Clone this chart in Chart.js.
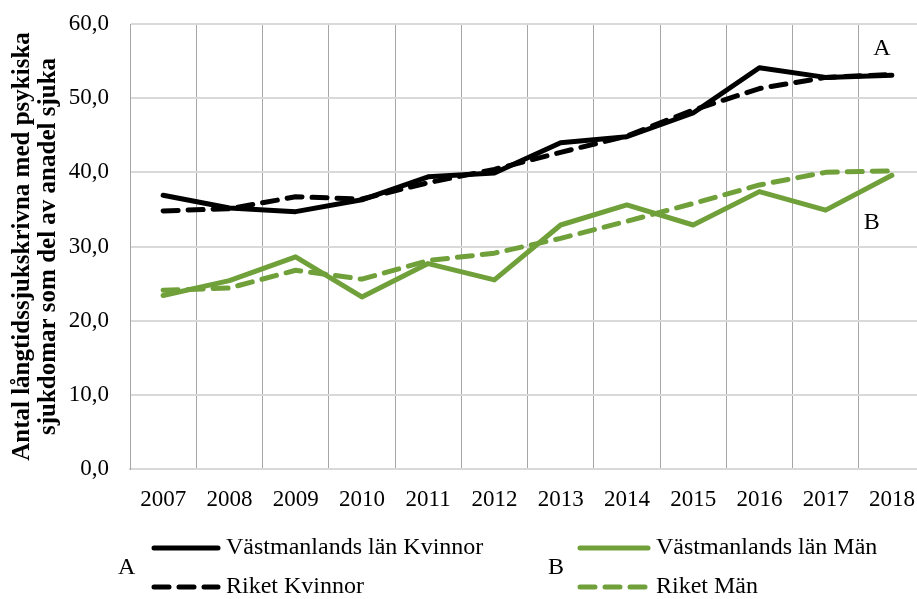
<!DOCTYPE html>
<html>
<head>
<meta charset="utf-8">
<script src="https://cdn.jsdelivr.net/npm/chart.js@4"></script>
<style>
  html, body { margin: 0; padding: 0; background: #fff; overflow: hidden; }
  #wrap { position: relative; width: 935px; height: 599px; }
</style>
</head>
<body>
<div id="wrap"><canvas id="chart"></canvas></div>
<script>
const years = ['2007','2008','2009','2010','2011','2012','2013','2014','2015','2016','2017','2018'];
const vastKvinnor = [36.9, 35.2, 34.7, 36.3, 39.4, 39.9, 44.0, 44.8, 48.0, 54.1, 52.8, 53.1];
const riketKvinnor = [34.8, 35.1, 36.7, 36.4, 38.6, 40.4, 42.7, 44.9, 48.4, 51.3, 52.8, 53.2];
const vastMan = [23.4, 25.4, 28.6, 23.2, 27.7, 25.5, 32.9, 35.6, 32.9, 37.4, 34.9, 39.6];
const riketMan = [24.1, 24.4, 26.8, 25.6, 28.1, 29.1, 31.1, 33.4, 35.8, 38.3, 40.0, 40.2];
const yTicks = [0, 10, 20, 30, 40, 50, 60];
const yTitle = ['Antal långtidssjukskrivna med psykiska', 'sjukdomar som del av anadel sjuka'];

const FONT = '"Liberation Serif", "Times New Roman", serif';
const BLACK = '#000000';
const GREEN = '#70a03a';
const DASH = [15, 10];

function fmt(v) { return v.toFixed(1).replace('.', ','); }

// legend with group letters A / B, drawn below the axis
const groupLegend = {
    id: 'groupLegend',
    afterDraw(chart) {
        const ctx = chart.ctx;
        const ds = chart.data.datasets;
        const groups = [
            { letter: 'A', x: 118, items: [ds[0], ds[1]], lineX: 152, lineW: 68 },
            { letter: 'B', x: 548, items: [ds[2], ds[3]], lineX: 578, lineW: 72 }
        ];
        const rows = [548, 587];
        ctx.save();
        ctx.font = '24px ' + FONT;
        ctx.textBaseline = 'middle';
        groups.forEach(g => {
            ctx.fillStyle = '#000';
            ctx.textAlign = 'left';
            ctx.fillText(g.letter, g.x, (rows[0] + rows[1]) / 2);
            g.items.forEach((d, i) => {
                ctx.strokeStyle = d.borderColor;
                ctx.lineWidth = 5;
                ctx.lineCap = 'round';
                ctx.setLineDash(d.borderDash || []);
                ctx.beginPath();
                ctx.moveTo(g.lineX + 2, rows[i]);
                ctx.lineTo(g.lineX + g.lineW - 2, rows[i]);
                ctx.stroke();
                ctx.setLineDash([]);
                ctx.fillStyle = '#000';
                ctx.fillText(d.label, g.lineX + g.lineW + 6, rows[i]);
            });
        });
        // A / B labels next to the last points
        const xs = chart.scales.x, ys = chart.scales.y;
        const last = years.length - 1;
        ctx.font = '24px ' + FONT;
        ctx.textAlign = 'center';
        ctx.fillText('A', xs.getPixelForValue(last) - 10, ys.getPixelForValue(vastKvinnor[last]) - 26);
        ctx.fillText('B', xs.getPixelForValue(last) - 20, ys.getPixelForValue(vastMan[last]) + 47);
        ctx.restore();
    }
};

new Chart(document.getElementById('chart'), {
    type: 'line',
    data: {
        labels: years,
        datasets: [
            { label: 'Västmanlands län Kvinnor', data: vastKvinnor, borderColor: BLACK, borderWidth: 5 },
            { label: 'Riket Kvinnor', data: riketKvinnor, borderColor: BLACK, borderWidth: 5, borderDash: DASH },
            { label: 'Västmanlands län Män', data: vastMan, borderColor: GREEN, borderWidth: 5 },
            { label: 'Riket Män', data: riketMan, borderColor: GREEN, borderWidth: 5, borderDash: DASH }
        ]
    },
    options: {
        responsive: true,
        maintainAspectRatio: false,
        animation: false,
        layout: { padding: { top: 24, right: 10, left: 0, bottom: 0 } },
        elements: {
            point: { radius: 0 },
            line: { tension: 0, borderCapStyle: 'round', borderJoinStyle: 'round' }
        },
        plugins: { legend: { display: false }, tooltip: { enabled: false } },
        scales: {
            x: {
                offset: true,
                grid: { offset: true, color: '#a6a6a6', lineWidth: 1, drawTicks: false },
                border: { color: '#d9d9d9', width: 2 },
                ticks: { color: '#000', font: { family: FONT, size: 23 }, padding: 17, maxRotation: 0 },
                afterFit(scale) { scale.height = 130; scale.paddingLeft = 0; scale.paddingRight = 0; }
            },
            y: {
                min: 0,
                max: 60,
                afterBuildTicks(scale) { scale.ticks = yTicks.map(v => ({ value: v })); },
                grid: { color: '#d9d9d9', lineWidth: 2, drawTicks: false },
                border: { color: '#a6a6a6', width: 1 },
                ticks: { color: '#000', font: { family: FONT, size: 23 }, padding: 21, callback: v => fmt(v) },
                title: {
                    display: true,
                    text: yTitle,
                    color: '#000',
                    font: { family: FONT, size: 25, weight: 'bold', lineHeight: 1.02 },
                    padding: { top: 10, bottom: 0 }
                },
                afterFit(scale) { scale.width = 130; scale.paddingTop = 0; scale.paddingBottom = 0; }
            }
        }
    },
    plugins: [groupLegend]
});
</script>
</body>
</html>
